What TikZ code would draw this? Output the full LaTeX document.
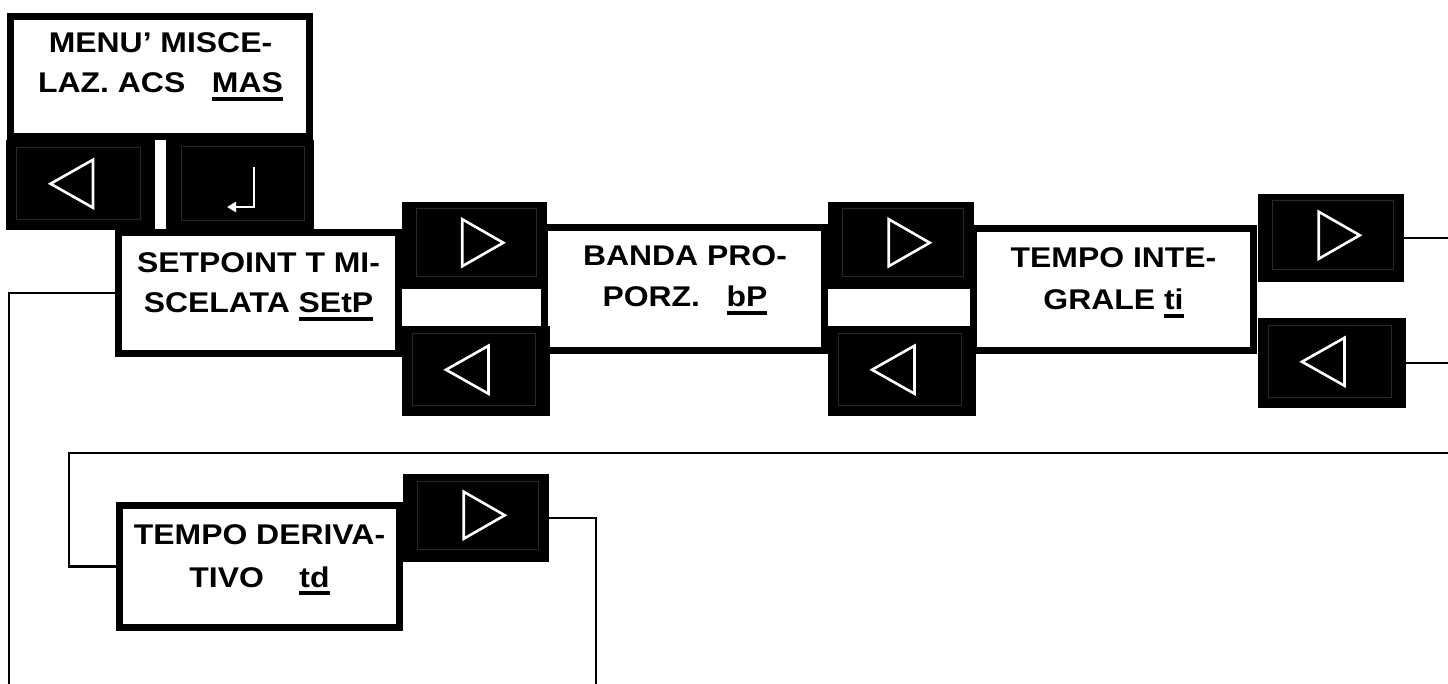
\documentclass[tikz,border=0pt]{standalone}
\usepackage{fontspec}
\newfontfamily\labfont{Liberation Sans}[FakeStretch=1.12]
\usetikzlibrary{calc,arrows.meta}
\newcommand\ulx[1]{\leavevmode\setbox0\hbox{#1}\rlap{\rule[-8pt]{\wd0}{3.6pt}}\box0}
\begin{document}
\begin{tikzpicture}[x=1pt,y=-1pt,
  boxst/.style={draw=black, line width=7pt, fill=white, inner sep=0pt, outer sep=3.5pt,
    minimum width=280pt, minimum height=122pt},
  btnbase/.style={fill=black, draw=none, inner sep=0pt, outer sep=0pt},
  innerline/.style={draw=black!84, line width=1pt},
  tri/.style={draw=white, line width=2.6pt, line join=miter},
  rbtn/.style={btnbase, path picture={
    \coordinate (pa) at ($(path picture bounding box.north west)+(14.5,7)$);
    \coordinate (pb) at ($(path picture bounding box.south east)+(-11,-12.5)$);
    \draw[innerline] (pa) rectangle (pb);
    \coordinate (pc) at ($(pa)!0.5!(pb)$);
    \draw[tri] ($(pc)+(-14,-23.5)$) -- ($(pc)+(27,0)$) -- ($(pc)+(-14,23.5)$) -- cycle;
  }},
  lbtn/.style={btnbase, path picture={
    \coordinate (pa) at ($(path picture bounding box.north west)+(10.5,8)$);
    \coordinate (pb) at ($(path picture bounding box.south east)+(-14.5,-10.5)$);
    \draw[innerline] (pa) rectangle (pb);
    \coordinate (pc) at ($(pa)!0.5!(pb)$);
    \draw[tri] ($(pc)+(14.5,-24)$) -- ($(pc)+(-28,0)$) -- ($(pc)+(14.5,24)$) -- cycle;
  }},
  ebtn/.style={btnbase, path picture={
    \coordinate (pa) at ($(path picture bounding box.north west)+(15,7)$);
    \coordinate (pb) at ($(path picture bounding box.south east)+(-10,-9)$);
    \draw[innerline] (pa) rectangle (pb);
    \coordinate (pc) at ($(pa)!0.5!(pb)$);
    \draw[draw=white, line width=2.8pt, line join=miter, -{Triangle[length=9pt,width=10pt]}]
      ($(pc)+(11.5,-17)$) -- ($(pc)+(11.5,23)$) -- ($(pc)+(-15.5,23)$);
  }},
  lab/.style={font=\labfont\bfseries\fontsize{28.5}{40}\selectfont, inner sep=0pt, anchor=base},
  conn/.style={draw=black, line width=2.2pt}
]
\useasboundingbox (0,0) rectangle (1448,684);
\fill[white] (0,0) rectangle (1448,684);

% boxes
\node[boxst, minimum width=299pt, minimum height=120pt] (menu) at (160,76.5) {};
\node[boxst, minimum height=121pt] (setp) at (258.5,293) {};
\node[boxst, minimum height=123pt] (banda) at (684.5,289) {};
\node[boxst] (tint) at (1113.5,289.5) {};
\node[boxst] (tder) at (259.5,566.5) {};

% buttons
\node[lbtn, minimum width=149pt, minimum height=90pt] (bMl) at (80.5,185) {};
\node[ebtn, minimum width=148pt, minimum height=90pt] (bMe) at (240,185) {};
\node[rbtn, minimum width=145pt, minimum height=87pt] (bR1) at (474.5,245.5) {};
\node[lbtn, minimum width=148pt, minimum height=90pt] (bL1) at (476,371) {};
\node[rbtn, minimum width=146pt, minimum height=87pt] (bR2) at (901,245.5) {};
\node[lbtn, minimum width=148pt, minimum height=90pt] (bL2) at (902,371) {};
\node[rbtn, minimum width=146pt, minimum height=88pt] (bR3) at (1331,238) {};
\node[lbtn, minimum width=148pt, minimum height=90pt] (bL3) at (1332,363) {};
\node[rbtn, minimum width=146pt, minimum height=88pt] (bR4) at (476,518) {};

% texts
\node[lab] (tm1) at (160.5,53) {MENU’ MISCE-};
\node[lab] (tm2) at (160.5,93) {LAZ. ACS~~~\ulx{MAS}};
\node[lab] (ts1) at (258.5,273) {SETPOINT T MI-};
\node[lab] (ts2) at (258.5,313) {SCELATA \ulx{SEtP}};
\node[lab] (tb1) at (685,266) {BANDA PRO-};
\node[lab] (tb2) at (685,307) {PORZ.~~~\ulx{bP}};
\node[lab] (ti1) at (1113.5,268) {TEMPO INTE-};
\node[lab] (ti2) at (1113.5,310) {GRALE \ulx{ti}};
\node[lab] (td1) at (259.5,544) {TEMPO DERIVA-};
\node[lab] (td2) at (259.5,587) {TIVO~~~~\ulx{td}};

% connectors
\coordinate (eR3) at (1448,238);
\coordinate (eL3) at (1448,363);
\coordinate (eTop) at (1448,453);
\coordinate (kTop) at (69,453);
\coordinate (eB4) at (596,684);
\coordinate (eBS) at (9,684);
\draw[conn] (bR3.east) -- (eR3);
\draw[conn] (bL3.east) -- (eL3);
\draw[conn] (eTop) -- (kTop) |- (tder.west);
\draw[conn] (bR4.east) -| (eB4);
\draw[conn] (setp.west) -| (eBS);
\end{tikzpicture}
\end{document}
